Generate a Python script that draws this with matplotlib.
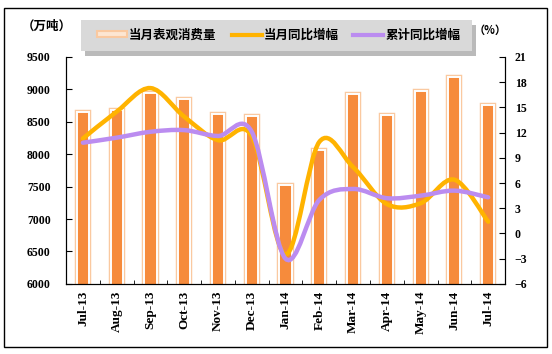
import matplotlib
matplotlib.use('Agg')
import matplotlib.pyplot as plt
import matplotlib.patheffects as pe
from matplotlib.path import Path
from matplotlib.patches import PathPatch, Rectangle
from matplotlib.lines import Line2D
import numpy as np

plt.rcParams['font.family'] = ['Noto Sans CJK SC', 'DejaVu Sans']

months = ['Jul-13', 'Aug-13', 'Sep-13', 'Oct-13', 'Nov-13', 'Dec-13', 'Jan-14',
          'Feb-14', 'Mar-14', 'Apr-14', 'May-14', 'Jun-14', 'Jul-14']
consumption = [8650, 8680, 8950, 8850, 8620, 8590, 7530, 8060, 8930, 8600, 8980, 9190, 8760]
month_yoy = [11.3, 14.5, 17.3, 13.9, 11.1, 11.6, -2.5, 10.9, 7.9, 3.5, 3.6, 6.4, 1.4]
cum_yoy = [10.8, 11.4, 12.1, 12.3, 11.6, 12.1, -3.0, 4.0, 5.3, 4.2, 4.5, 5.1, 4.3]

bar_face = '#F68B3C'
bar_edge = '#FAC9A0'
c_month = '#FFB300'
c_cum = '#BB8CF0'


def smooth_path(x, y, t=1 / 6.0):
    # smoothed line like Excel: bezier segments through the points
    x = np.asarray(x, float)
    y = np.asarray(y, float)
    n = len(x)
    verts = [(x[0], y[0])]
    codes = [Path.MOVETO]
    for i in range(n - 1):
        p0 = np.array([x[max(i - 1, 0)], y[max(i - 1, 0)]])
        p1 = np.array([x[i], y[i]])
        p2 = np.array([x[i + 1], y[i + 1]])
        p3 = np.array([x[min(i + 2, n - 1)], y[min(i + 2, n - 1)]])
        c1 = p1 + (p2 - p0) * t
        c2 = p2 - (p3 - p1) * t
        verts += [tuple(c1), tuple(c2), tuple(p2)]
        codes += [Path.CURVE4] * 3
    return Path(verts, codes)


fig = plt.figure(figsize=(5.52, 3.54), dpi=100)
ax = fig.add_axes([0.1196, 0.198, 0.7954, 0.641])
ax2 = ax.twinx()

x = np.arange(len(months))
ax.bar(x, consumption, width=0.36, color=bar_face, edgecolor='white', linewidth=1.4,
       path_effects=[pe.Stroke(linewidth=3.2, foreground=bar_edge), pe.Normal()], zorder=2)
ax.set_ylim(6000, 9500)
ax.set_yticks(range(6000, 9501, 500))
ax.set_xlim(-0.5, len(months) - 0.5)
ax.set_xticks(x)
ax.set_xticklabels(months, rotation=90)
ax.set_xticks(np.arange(-0.5, len(months), 1), minor=True)

ax2.add_patch(PathPatch(smooth_path(x, month_yoy), fill=False, edgecolor=c_month,
                        linewidth=3.2, capstyle='round', zorder=3))
ax2.add_patch(PathPatch(smooth_path(x, cum_yoy), fill=False, edgecolor=c_cum,
                        linewidth=3.2, capstyle='round', zorder=4))
ax2.set_ylim(-6, 21)
ax2.set_yticks(range(-6, 22, 3))

for lab in ax.get_yticklabels() + ax2.get_yticklabels():
    lab.set_fontfamily('Liberation Serif')
    lab.set_fontweight('bold')
    lab.set_fontsize(8.5)
for lab in ax.get_xticklabels():
    lab.set_fontfamily('Liberation Serif')
    lab.set_fontweight('bold')
    lab.set_fontsize(9.5)

ax.tick_params(axis='x', which='major', length=0, pad=5)
ax.tick_params(axis='x', which='minor', direction='in', length=3)
ax.tick_params(axis='y', direction='in', length=4, pad=11)
ax2.tick_params(axis='y', direction='in', length=4, pad=7)
ax.spines['top'].set_visible(False)
ax2.spines['top'].set_visible(False)

# units
fig.text(0.04, 0.925, '（万吨）', fontsize=9, fontweight='bold', va='center')
fig.text(0.858, 0.915, '（%）', fontsize=8, fontweight='bold', va='center')

# legend box with shadow
fig.patches.append(Rectangle((0.154, 0.842), 0.708, 0.088, transform=fig.transFigure,
                             facecolor='#8c8c8c', edgecolor='none', alpha=0.6, zorder=1))
fig.patches.append(Rectangle((0.147, 0.856), 0.708, 0.088, transform=fig.transFigure,
                             facecolor='#d9d9d9', edgecolor='none', zorder=2))
handles = [Rectangle((0, 0), 1, 1, facecolor='#fde6d2', edgecolor=bar_edge, linewidth=1.5),
           Line2D([0], [0], color=c_month, linewidth=3),
           Line2D([0], [0], color=c_cum, linewidth=3)]
labels = ['当月表观消费量', '当月同比增幅', '累计同比增幅']
leg = fig.legend(handles, labels, loc='center', bbox_to_anchor=(0.505, 0.901), ncol=3,
                 frameon=False, handlelength=2.4, handleheight=0.35, handletextpad=0.15,
                 columnspacing=1.2, borderpad=0, prop=dict(weight='bold', size=9))
leg.set_zorder(5)

# outer frame
fig.patches.append(Rectangle((0.0072, 0.0198), 0.984, 0.958, transform=fig.transFigure,
                             facecolor='none', edgecolor='black', linewidth=1.0))

fig.savefig('out.png', dpi=100)
